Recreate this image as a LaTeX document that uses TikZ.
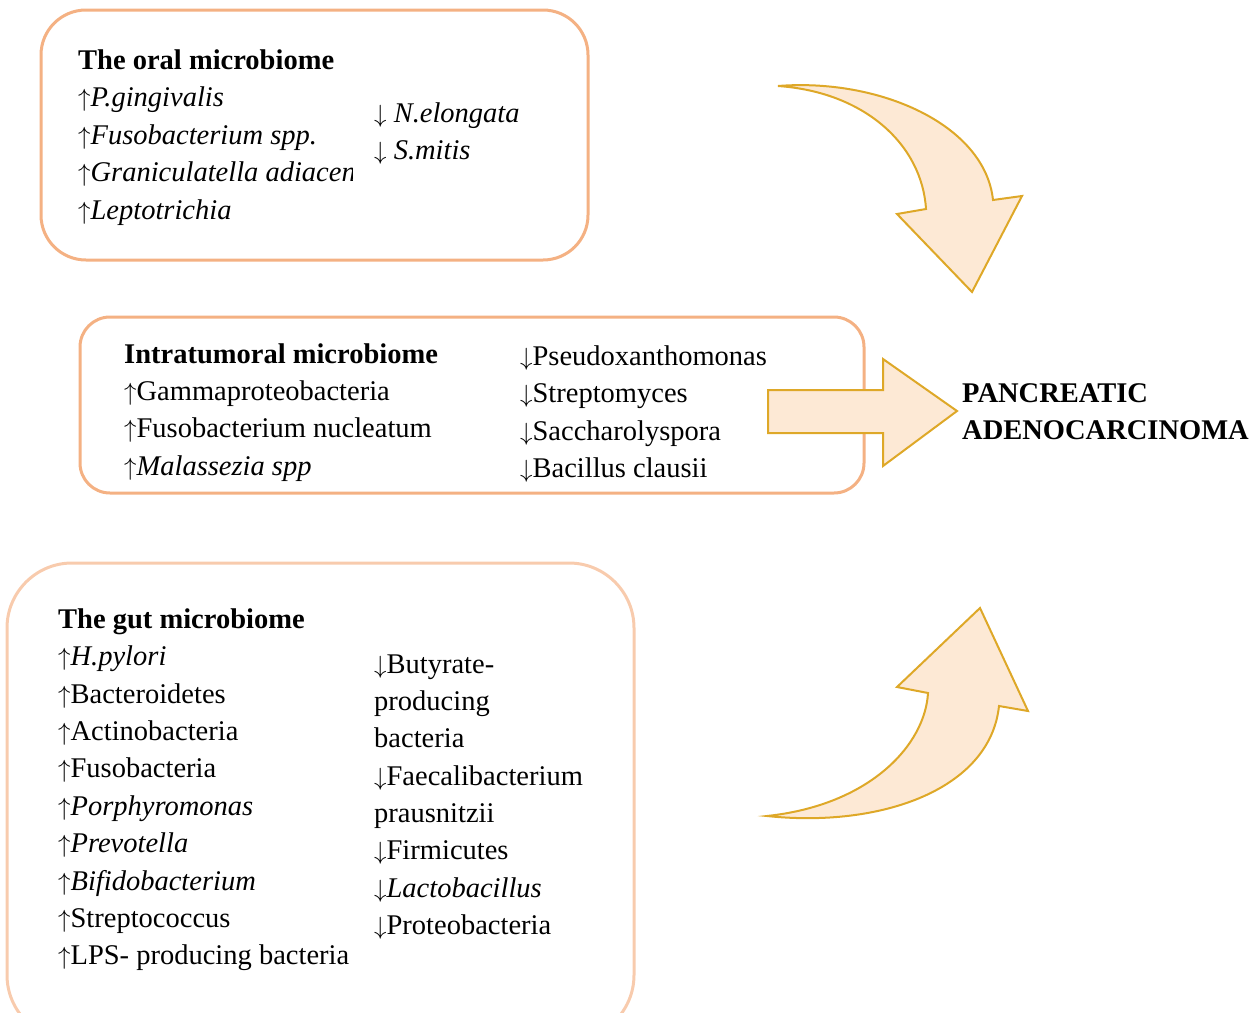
\documentclass[tikz,border=0pt]{standalone}
\usepackage{fontspec}
\setmainfont{Liberation Serif}
\definecolor{boxA}{RGB}{244,177,131}
\definecolor{boxC}{RGB}{248,203,173}
\definecolor{arrfill}{RGB}{253,233,213}
\definecolor{arrline}{RGB}{222,168,40}
\newcommand\myup{\ensuremath{\uparrow}}
\newcommand\mydn{\ensuremath{\downarrow}}
\begin{document}
\begin{tikzpicture}[x=1pt,y=-1pt,
  txt/.style={anchor=base west, inner sep=0pt, font=\fontsize{28.5}{37.5}\selectfont},
  ttl/.style={txt, font=\fontsize{28.5}{37.5}\selectfont\bfseries},
  mbox/.style={line width=3pt},
  bigarrow/.style={fill=arrfill, draw=arrline, line width=2pt, line join=miter}]
\useasboundingbox (0,0) rectangle (1260,1012);
\clip (0,0) rectangle (1260,1012);
% boxes
\draw[mbox, draw=boxA, rounded corners=45pt] (41,10) rectangle (588,260);
\draw[mbox, draw=boxA, rounded corners=30pt] (80,317) rectangle (864,493);
\draw[mbox, draw=boxC, rounded corners=65pt] (7,563) rectangle (634,1040);
% oral
\node[ttl] (oralT) at (78,69) {The oral microbiome};
\begin{scope}
\clip (60,80) rectangle (352,240);
\node[txt] (o1) at (78,106) {\myup\textit{P.gingivalis}};
\node[txt] (o2) at (78,144) {\myup\textit{Fusobacterium spp.}};
\node[txt] (o3) at (78,181) {\myup\textit{Graniculatella adiacens}};
\node[txt] (o4) at (78,219) {\myup\textit{Leptotrichia}};
\end{scope}
\node[txt] (o5) at (374,122) {\mydn{} \textit{N.elongata}};
\node[txt] (o6) at (374,159) {\mydn{} \textit{S.mitis}};
% intratumoral
\node[ttl] (intT) at (124,363) {Intratumoral microbiome};
\node[txt] (i1) at (124,400) {\myup Gammaproteobacteria};
\node[txt] (i2) at (124,437) {\myup Fusobacterium nucleatum};
\node[txt] (i3) at (124,475) {\myup\textit{Malassezia spp}};
\node[txt] (i4) at (520,365) {\mydn Pseudoxanthomonas};
\node[txt] (i5) at (520,402) {\mydn Streptomyces};
\node[txt] (i6) at (520,440) {\mydn Saccharolyspora};
\node[txt] (i7) at (520,477) {\mydn Bacillus clausii};
% gut
\node[ttl] (gutT) at (58,628) {The gut microbiome};
\node[txt] (g1) at (58,665) {\myup\textit{H.pylori}};
\node[txt] (g2) at (58,703) {\myup Bacteroidetes};
\node[txt] (g3) at (58,740) {\myup Actinobacteria};
\node[txt] (g4) at (58,777) {\myup Fusobacteria};
\node[txt] (g5) at (58,815) {\myup\textit{Porphyromonas}};
\node[txt] (g6) at (58,852) {\myup\textit{Prevotella}};
\node[txt] (g7) at (58,890) {\myup\textit{Bifidobacterium}};
\node[txt] (g8) at (58,927) {\myup Streptococcus};
\node[txt] (g9) at (58,964) {\myup LPS- producing bacteria};
\node[txt] (h1) at (374,673) {\mydn Butyrate-};
\node[txt] (h2) at (374,710) {producing};
\node[txt] (h3) at (374,747) {bacteria};
\node[txt] (h4) at (374,785) {\mydn Faecalibacterium};
\node[txt] (h5) at (374,822) {prausnitzii};
\node[txt] (h6) at (374,859) {\mydn Firmicutes};
\node[txt] (h7) at (374,897) {\mydn\textit{Lactobacillus}};
\node[txt] (h8) at (374,934) {\mydn Proteobacteria};
% target
\node[ttl] (pa1) at (962,402) {PANCREATIC};
\node[ttl] (pa2) at (962,439) {ADENOCARCINOMA};
% arrows
\draw[bigarrow] (768,390) -- (883,390) -- (883,359) -- (957,411) -- (883,466) -- (883,433) -- (768,433) -- cycle;
\draw[bigarrow] (778,86) .. controls (880,78) and (985,125) .. (993,200)
  -- (1022,196) -- (972,292) -- (897,214) -- (926,209)
  .. controls (922,145) and (865,92) .. cycle;
\draw[bigarrow] (767,816) .. controls (870,805) and (925,745) .. (928,693)
  -- (897,687) -- (980,608) -- (1028,711) -- (999,706)
  .. controls (990,790) and (880,828) .. cycle;
\end{tikzpicture}
\end{document}
